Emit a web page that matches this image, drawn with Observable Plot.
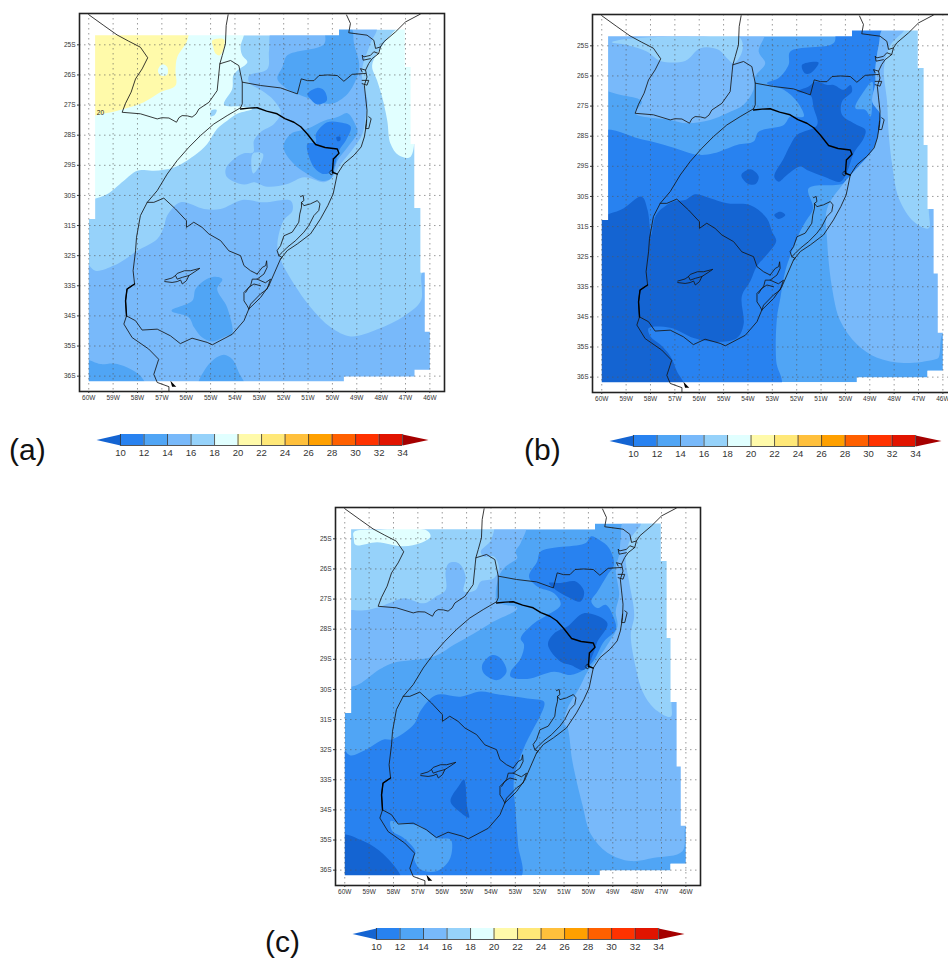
<!DOCTYPE html>
<html><head><meta charset="utf-8">
<script src="https://cdn.jsdelivr.net/npm/d3@7"></script>
<script src="https://cdn.jsdelivr.net/npm/@observablehq/plot@0.6"></script>
<style>
body{margin:0;background:#fff}
#root{position:relative;width:948px;height:958px;overflow:hidden;font-family:"Liberation Sans",Arial,sans-serif}
#root>svg,#root>div{position:absolute}
.tag{font-size:30px;color:#111;line-height:1;white-space:nowrap}
</style></head><body><div id="root"></div>
<script>
// All geographic data are degrees West, degrees South.
const lonTicks=[60,59,58,57,56,55,54,53,52,51,50,49,48,47,46];
const latTicks=[25,26,27,28,29,30,31,32,33,34,35,36];
const barValues=[10,12,14,16,18,20,22,24,26,28,30,32,34];
const bands=["<10","10-12","12-14","14-16","16-18","18-20","20-22","22-24","24-26","26-28","28-30","30-32","32-34",">34"];
const bandColours=["#1464d2","#2882f0","#50a5f5","#78b9fa","#96d2fa","#e1ffff","#fffaaa","#ffe878","#ffc03c","#ffa000","#ff6000","#ff3200","#e11400","#a50000"];

const dataDomain=[[59.74,24.68],[49.73,24.68],[49.73,24.49],[47.03,24.49],[47.03,25.74],[46.79,25.74],[46.79,28.29],[46.63,28.29],[46.63,30.42],[46.38,30.42],[46.38,32.56],[46.21,32.56],[46.21,34.53],[46,34.53],[46,35.79],[46.63,35.79],[46.63,36.01],[49.53,36.01],[49.53,36.17],[60,36.17],[60,30.78],[59.74,30.78]];

// Panel (a)
const aPaleNW=[[60.2,24.4],[53.66,24.4],[53.77,25.08],[53.70,25.35],[53.49,25.58],[53.90,25.85],[54.07,26.02],[54.11,26.46],[54.45,26.99],[53.77,27.05],[53.29,27.13],[53.90,27.29],[54.32,27.52],[54.73,27.79],[55.14,28.29],[55.68,28.68],[56.51,29.07],[57.33,29.18],[58.01,29.18],[58.56,29.51],[59.38,30.01],[60.2,30.05]];
const aPatch=[[54.97,27.18],[54.75,27.16],[54.86,27.35],[55.0,27.37]];
const aPaleE=[[47.2,24.4],[47.62,24.68],[47.89,24.96],[48.37,25.68],[48.17,26.18],[47.96,26.73],[47.75,27.51],[47.62,28.28],[47.28,28.67],[46.79,28.72],[46.7,25.74],[46.7,24.4]];
const aYellow=[[60.2,24.4],[55.96,24.4],[55.96,24.86],[56.37,25.41],[56.44,25.85],[56.44,26.35],[57.05,26.57],[57.74,26.91],[58.56,27.13],[59.32,27.27],[60.2,27.3]];
const aHole=[[57.15,25.80],[56.99,25.65],[56.78,25.74],[56.78,25.99],[57.05,26.02],[57.15,25.91]];
const aYellow2=[[54.93,24.86],[54.45,24.82],[54.45,25.08],[54.62,25.35],[54.79,25.30],[54.89,25.08]];
const a14N=[[52.40,24.4],[48.2,24.4],[48.45,24.97],[48.77,25.74],[48.77,26.19],[48.56,26.85],[48.63,27.35],[48.77,27.96],[49.11,28.40],[49.66,28.96],[50.0,29.40],[50.34,29.56],[51.16,29.40],[51.85,29.62],[52.67,29.71],[53.22,29.56],[53.63,29.64],[54.32,29.40],[54.38,29.12],[54.04,28.79],[53.63,28.60],[53.25,28.57],[53.22,28.18],[52.95,27.90],[52.40,27.63],[52.12,27.24],[52.40,26.85],[52.81,26.57],[53.42,26.24],[53.42,26.02],[52.67,25.80],[52.60,25.19]];
const aIsland=[[53.25,28.60],[52.85,28.62],[52.95,28.96],[53.25,29.27],[53.33,28.96]];
const a14S=[[60.2,32.17],[59.73,32.50],[58.97,32.33],[58.49,32.11],[58.01,31.84],[57.19,31.45],[56.92,31.06],[56.78,30.67],[56.23,30.23],[55.27,30.45],[54.59,30.45],[53.70,30.15],[52.81,30.23],[51.71,30.18],[51.64,30.51],[52.01,30.84],[52.26,31.67],[52.12,32.11],[52.05,32.28],[51.58,32.94],[50.89,33.72],[50.07,34.38],[49.25,34.68],[48.15,34.44],[47.05,34.0],[46.37,33.50],[46.30,32.56],[45.8,32.56],[45.8,36.3],[60.2,36.3]];
const a12N=[[50.27,24.4],[49.25,24.4],[49.11,24.97],[48.90,25.63],[48.97,26.02],[49.38,26.63],[50.07,26.96],[50.89,26.79],[51.44,26.63],[51.92,26.43],[52.26,26.13],[52.05,25.74],[51.85,25.35],[50.34,24.97]];
const a12S=[[49.38,27.27],[49.04,27.68],[48.97,27.90],[49.38,28.40],[49.79,28.84],[50.07,29.45],[50.48,29.51],[51.03,29.29],[51.58,28.96],[52.01,28.40],[51.71,27.96],[51.03,27.79],[50.34,27.52],[49.79,27.40]];
const a10N=[[51.03,26.63],[50.62,26.43],[50.34,26.52],[50.23,26.85],[50.62,26.98],[50.96,26.74]];
const a10S=[[50.68,27.96],[50.21,27.57],[49.73,27.57],[49.25,27.71],[49.45,28.18],[49.73,28.51],[50.0,29.18],[50.34,29.29],[50.75,29.07],[51.03,28.29],[50.68,28.24]];
const a8Dot=[[49.84,28.07],[49.68,28.05],[49.68,28.18],[49.79,28.20]];
const a12Uru=[[54.86,32.70],[54.52,32.78],[54.73,33.11],[54.32,33.72],[54.11,34.61],[54.32,34.66],[54.93,34.85],[55.34,34.72],[55.68,34.38],[55.89,34.05],[56.60,33.83],[55.75,33.50],[55.62,33.11],[55.27,32.83]];
const a12SW=[[60.2,35.47],[59.52,35.60],[58.97,35.58],[58.42,35.71],[57.88,35.99],[57.71,36.3],[60.2,36.3]];
const a12Mid=[[55.48,36.3],[55.27,35.83],[54.86,35.44],[54.45,35.29],[54.11,35.44],[53.84,35.88],[53.63,36.3]];
const panelA=[[aPaleNW,"18-20"],[aPatch,"16-18"],[aPaleE,"18-20"],[aYellow,"20-22"],[aHole,"18-20"],[aYellow2,"20-22"],[a14N,"14-16"],[aIsland,"16-18"],[a14S,"14-16"],[a12N,"12-14"],[a12S,"12-14"],[a10N,"10-12"],[a10S,"10-12"],[a8Dot,"<10"],[a12Uru,"12-14"],[a12SW,"12-14"],[a12Mid,"12-14"]];

// Panel (b)
const b14NW=[[60.2,24.4],[53.29,24.4],[53.56,25.19],[53.29,25.58],[53.70,26.02],[53.77,26.46],[54.18,26.96],[54.86,27.24],[55.55,27.46],[56.51,27.57],[57.19,27.46],[58.63,27.24],[58.36,26.85],[59.52,26.57],[60.2,26.3]];
const b16NW=[[59.59,24.88],[58.70,24.75],[55.82,24.69],[54.38,24.69],[54.21,24.97],[54.32,25.35],[54.59,25.58],[54.86,25.41],[55.21,25.13],[55.96,25.08],[56.58,25.50],[57.60,25.50],[58.15,25.19],[58.97,24.97]];
const b10Big=[[60.2,27.88],[58.29,28.12],[57.19,28.35],[56.03,28.62],[55.41,28.57],[54.45,28.29],[53.77,28.18],[53.56,27.85],[52.53,27.63],[52.26,27.35],[51.71,27.35],[51.99,26.85],[52.53,26.46],[53.22,26.24],[52.74,26.07],[52.33,25.63],[52.26,25.19],[50.48,24.91],[50.34,24.4],[48.42,24.4],[48.63,24.97],[48.77,25.74],[48.77,26.24],[48.90,26.85],[48.56,27.29],[48.63,27.85],[48.84,28.40],[49.66,29.18],[50.07,29.56],[51.51,29.73],[51.33,30.40],[51.64,30.84],[51.85,31.15],[52.19,31.81],[52.47,32.48],[52.67,33.37],[52.81,34.03],[52.84,35.47],[52.67,36.3],[60.2,36.3]];
const b12Inlet=[[48.90,26.19],[49.25,26.52],[49.59,27.07],[49.18,27.13],[48.97,27.35],[48.90,26.85]];
const b8Main=[[51.99,26.52],[51.51,26.35],[51.23,26.19],[50.75,26.30],[50.48,26.30],[50.07,26.46],[49.79,26.30],[49.73,26.52],[50.14,26.85],[50.14,27.29],[49.66,27.57],[49.18,27.79],[49.25,28.07],[49.66,28.57],[49.93,29.18],[50.21,29.51],[50.89,29.34],[51.58,29.12],[51.85,29.01],[52.40,29.29],[52.74,29.51],[52.92,29.34],[52.53,28.73],[52.26,28.29],[51.99,27.96],[51.16,27.63],[51.30,27.07],[51.44,26.63]];
const b8Top=[[51.78,25.63],[51.10,25.55],[51.44,25.91],[51.67,25.91]];
const b8Centre=[[54.27,29.29],[53.90,29.10],[53.56,29.34],[53.70,29.60],[54.04,29.56]];
const b8Small=[[52.92,30.62],[52.67,30.51],[52.47,30.62],[52.74,30.75]];
const b8SW=[[60.2,30.9],[59.11,30.40],[58.36,30.01],[58.12,30.45],[57.97,31.28],[57.85,30.78],[57.67,30.51],[57.05,30.17],[56.58,30.12],[56.16,29.93],[55.55,30.06],[54.86,30.23],[53.90,30.29],[53.22,30.73],[53.01,31.17],[52.84,31.48],[53.22,31.93],[53.63,32.31],[53.90,32.81],[54.25,33.31],[54.18,34.25],[54.45,34.70],[55.27,34.83],[56.23,34.70],[57.19,34.36],[58.08,34.38],[58.01,34.64],[57.60,34.92],[57.19,35.30],[56.92,35.80],[56.65,36.3],[60.2,36.3]];
const b14E=[[48.42,24.4],[45.6,24.4],[45.6,34.58],[46.0,34.58],[46.18,35.36],[46.37,35.42],[47.60,35.53],[48.70,35.36],[49.52,34.92],[50.21,34.14],[50.55,33.03],[50.75,31.48],[50.75,30.40],[50.07,29.56],[49.66,29.18],[48.84,28.40],[48.63,27.85],[48.56,27.29],[48.90,26.85],[48.77,26.24],[48.77,25.74],[48.63,24.97]];
const b16E=[[47.60,24.4],[47.60,24.50],[48.15,24.97],[48.42,25.74],[48.29,26.85],[48.22,27.96],[48.08,28.96],[47.81,30.06],[47.19,30.84],[46.58,31.06],[46.58,30.42],[46.58,24.4]];
const panelB=[[b14NW,"14-16"],[b16NW,"16-18"],[b10Big,"10-12"],[b12Inlet,"12-14"],[b8Main,"<10"],[b8Top,"<10"],[b8Centre,"<10"],[b8Small,"<10"],[b8SW,"<10"],[b14E,"14-16"],[b16E,"16-18"]];

// Panel (c)
const c14NW=[[60.2,24.4],[52.58,24.4],[52.78,25.14],[52.99,25.42],[52.92,25.64],[53.40,25.92],[53.67,26.25],[53.74,27.08],[52.92,27.30],[54.01,27.80],[54.70,28.14],[55.52,28.52],[56.34,28.91],[58.05,29.13],[58.60,29.35],[59.56,29.88],[60.2,29.85]];
const c16NW=[[60.2,24.4],[53.95,24.4],[53.99,25.03],[54.42,25.42],[54.29,25.59],[53.88,25.59],[53.67,25.98],[53.88,26.31],[54.42,26.42],[54.63,26.70],[55.11,26.75],[55.04,26.25],[55.32,25.81],[55.73,25.81],[55.86,26.09],[55.86,26.70],[56.27,26.92],[56.75,27.14],[57.58,26.97],[58.19,27.14],[58.60,27.27],[59.49,27.38],[60.2,27.19]];
const cPale=[[59.63,24.78],[58.53,24.70],[56.62,24.73],[56.48,24.92],[56.89,25.14],[57.58,25.25],[58.67,25.11],[59.56,25.20],[59.63,24.98]];
const c10N=[[49.90,24.92],[50.11,25.14],[51.96,25.42],[52.10,25.75],[52.44,26.25],[52.10,26.58],[51.41,26.81],[51.14,27.19],[51.68,27.53],[52.23,27.80],[52.78,28.30],[52.64,28.52],[52.78,28.97],[53.19,29.41],[53.19,29.58],[52.51,29.65],[51.41,29.41],[50.73,29.52],[50.18,29.35],[49.77,29.02],[49.36,28.41],[48.88,28.02],[48.95,27.64],[49.29,27.19],[49.63,27.30],[49.88,27.08],[49.63,26.75],[49.22,26.20],[48.95,25.86],[49.15,25.31],[49.56,25.03]];
const c8N=[[51.62,26.47],[51.14,26.47],[50.52,26.42],[50.18,26.75],[50.32,27.08],[50.86,26.92],[51.34,26.70]];
const c8S=[[51.41,28.14],[50.86,27.91],[50.18,27.47],[49.22,27.80],[49.63,28.41],[49.77,28.75],[50.18,29.35],[50.73,29.19],[51.14,29.08],[51.66,28.52]];
const c10Centre=[[54.36,29.19],[53.95,28.86],[53.60,28.97],[53.36,29.41],[53.74,29.69],[54.29,29.47]];
const c10S=[[60.2,31.88],[59.77,32.19],[59.22,32.04],[58.40,31.66],[58.05,31.66],[57.16,31.16],[56.89,30.71],[56.27,30.19],[55.25,30.24],[54.42,30.07],[53.74,30.16],[52.51,30.30],[51.82,30.41],[51.96,30.85],[52.16,31.16],[52.64,31.93],[53.05,32.93],[52.99,34.04],[52.89,35.15],[52.82,36.3],[60.2,36.3]];
const c12Patch=[[58.12,34.37],[57.85,34.43],[57.30,34.48],[56.89,34.54],[56.21,34.93],[55.66,34.98],[55.59,35.26],[55.73,35.70],[56.21,36.03],[56.89,35.98],[57.16,35.59],[57.10,35.37],[57.58,34.93],[58.05,34.70]];
const c8Centre=[[55.11,32.99],[54.97,33.93],[54.90,34.26],[55.32,34.04],[55.66,33.71],[55.32,33.21]];
const c8SW=[[60.2,34.84],[59.22,35.04],[58.40,35.48],[57.71,36.3],[60.2,36.3]];
const c14E=[[48.53,24.4],[48.67,24.98],[48.74,25.53],[48.88,25.98],[48.74,26.86],[48.88,27.42],[48.81,27.91],[49.22,28.52],[49.70,29.08],[50.04,29.41],[50.38,29.96],[50.86,30.63],[51.0,31.13],[50.86,31.27],[50.66,32.38],[50.25,33.82],[49.90,34.81],[49.22,35.42],[48.26,35.70],[47.30,35.59],[46.14,35.37],[45.99,34.54],[45.6,34.54],[45.6,24.4]];
const c16E=[[47.85,24.4],[47.85,24.53],[48.26,24.98],[48.47,25.64],[48.33,26.42],[48.12,27.53],[48.26,28.19],[48.05,29.30],[47.78,30.07],[47.30,30.63],[46.62,30.91],[46.59,30.43],[46.59,24.4]];
const panelC=[[c14NW,"14-16"],[c16NW,"16-18"],[cPale,"18-20"],[c10N,"10-12"],[c8N,"<10"],[c8S,"<10"],[c10Centre,"10-12"],[c10S,"10-12"],[c12Patch,"12-14"],[c8Centre,"<10"],[c8SW,"<10"],[c14E,"14-16"],[c16E,"16-18"]];

// Coast, rivers and borders
const lineWestBorder=[[60,24.0],[59.38,24.36],[58.84,24.67],[58.36,24.88],[57.88,25.08],[57.58,25.43],[57.81,25.80],[58.08,26.13],[58.26,26.57],[58.49,26.94],[58.63,27.24],[57.88,27.29],[57.19,27.46],[57.0,27.42],[56.71,27.43],[56.40,27.57],[56.3,27.42],[56.17,27.35],[55.95,27.36],[55.76,27.40],[55.6,27.3],[55.48,27.13],[55.07,26.91],[54.73,26.52],[54.62,25.63],[54.18,25.52],[53.84,25.69],[53.70,26.24],[53.70,26.96],[53.77,27.09]];
const lineParana=[[54.28,24.0],[54.36,24.36],[54.39,24.97],[54.52,25.35],[54.62,25.63]];
const lineUruguayRiver=[[53.77,27.09],[54.32,27.35],[54.87,27.63],[55.41,28.01],[55.89,28.40],[56.37,28.84],[56.78,29.29],[57.19,29.84],[57.60,30.23],[57.88,30.67],[58.04,31.39],[58.08,31.84],[58.18,32.50],[58.12,32.94],[58.43,33.11],[58.49,33.50],[58.45,34.0],[58.56,34.27],[58.22,34.72],[57.54,35.10],[57.13,35.44],[57.33,35.94],[57.19,36.21],[56.71,36.35],[56.71,36.51]];
const lineCoast=[[58.45,34.0],[58.08,34.16],[57.81,34.47],[57.19,34.44],[56.65,34.66],[56.24,34.92],[55.76,34.74],[55.14,34.88],[54.93,34.96],[54.11,34.61],[53.63,34.16],[53.43,33.77],[52.95,33.39],[52.61,33.0],[52.40,32.61],[52.13,32.11],[51.85,31.83],[51.44,31.61],[50.90,31.28],[50.49,30.78],[50.19,30.34],[49.97,29.95],[49.80,29.29],[49.53,28.95],[49.12,28.67],[48.82,28.39],[48.69,28.06],[48.60,27.62],[48.58,27.17],[48.64,26.73],[48.69,26.34],[48.58,26.07],[48.64,25.84],[48.51,25.62],[48.37,25.46],[48.10,25.29],[48.03,25.07],[47.89,24.90],[47.41,24.57],[47.0,24.24],[46.39,23.98]];
const lineSaoPaulo=[[49.42,24.01],[49.26,24.29],[49.33,24.60],[48.58,24.68],[48.30,24.85],[48.23,25.12],[48.03,25.07]];
const lineParanaState=[[53.70,26.24],[52.95,26.35],[52.13,26.43],[51.44,26.63],[51.28,26.13],[51.02,26.19],[50.76,26.19],[50.55,26.02],[50.2,26.0],[49.80,26.02],[49.53,26.21],[49.19,25.98],[48.64,25.95]];
const lineUruguayBorder=[[57.60,30.23],[57.33,30.23],[56.92,30.09],[56.44,30.45],[55.99,30.84],[55.99,31.06],[55.69,30.89],[55.35,31.06],[55.07,31.28],[54.59,31.50],[54.25,31.84],[53.77,32.0],[53.63,32.33],[53.36,32.50],[53.09,32.61]];
const lineMirimWest=[[53.09,32.61],[52.88,32.39],[52.74,32.33],[52.70,32.17],[52.68,32.39],[52.81,32.61],[53.09,32.78],[53.29,32.78],[53.36,33.0],[53.63,33.22],[53.63,33.50],[53.50,33.66],[53.43,33.77]];
const lineMirimEast=[[53.09,32.78],[52.75,32.90],[52.54,32.78],[52.68,33.11],[52.95,33.27],[53.36,33.61],[53.43,33.77]];
const lineMirimInner=[[53.56,33.22],[53.43,33.05],[53.22,32.94],[52.95,33.0]];
const linePatosEast=[[51.31,30.04],[51.20,30.0],[51.17,30.17],[51.27,30.23],[51.17,30.34],[50.90,30.28],[50.62,30.17],[50.51,30.28],[50.56,30.50],[50.76,30.67],[50.97,31.0],[51.17,31.22],[51.51,31.50],[51.85,31.72],[52.06,31.89],[52.20,32.0]];
const linePatosWest=[[51.27,30.23],[51.27,30.39],[51.34,30.62],[51.38,30.89],[51.65,31.22],[51.99,31.34],[52.13,31.67],[52.27,31.83],[52.20,32.0],[52.06,32.06],[52.13,32.11]];
const lineBay=[[48.10,25.29],[48.30,25.23],[48.44,25.35],[48.71,25.40],[48.78,25.34],[48.74,25.51],[48.44,25.46]];
const lineBay2=[[48.64,25.84],[48.85,25.79],[48.78,25.9]];
const lineLoop=[[48.78,26.18],[48.51,26.18],[48.58,26.34],[48.78,26.29]];
const lineLagoon=[[48.51,27.39],[48.41,27.45],[48.51,27.78],[48.64,27.78],[48.60,27.50]];
const lineLaguna=[[50.1,29.2],[50.0,29.15],[49.95,29.25],[50.05,29.32],[50.12,29.25]];
const lineLakeBranch=[[56.44,32.66],[56.37,32.78],[56.16,32.72],[55.89,32.66]];
const lineStateSouth=[[53.77,27.13],[53.42,27.1],[53.09,27.09],[52.7,27.2],[52.27,27.29],[51.95,27.45],[51.58,27.57],[51.3,27.72],[51.03,27.96],[50.69,28.31],[50.3,28.41],[49.80,28.46],[49.73,28.60],[49.96,28.79],[50.0,29.23],[49.80,29.29]];
const lineRiverThick=[[58.12,32.94],[58.43,33.11],[58.49,33.50],[58.45,34.0]];
const lineLakeNegro=[[56.88,32.81],[56.58,32.74],[56.44,32.66],[56.37,32.59],[56.07,32.50],[55.82,32.50],[55.44,32.42],[55.68,32.55],[55.89,32.66],[55.99,32.83],[56.16,32.94],[56.23,32.81],[56.37,32.86],[56.58,32.89],[56.88,32.86]];
const markBlack=[[56.65,36.15],[56.58,36.35],[56.41,36.35]];
const thinLines=[lineWestBorder,lineParana,lineUruguayRiver,lineCoast,lineSaoPaulo,lineParanaState,lineUruguayBorder,lineMirimWest,lineMirimEast,lineMirimInner,linePatosEast,linePatosWest,lineBay,lineBay2,lineLoop,lineLagoon,lineLaguna,lineLakeNegro,lineLakeBranch];
const thickLines=[lineStateSouth,lineRiverThick];

const lonDomain=[60.38,45.40], latDomain=[36.51,23.96];
const sansFont='"Liberation Sans",Arial,sans-serif';
const colorScale={type:"ordinal",domain:bands,range:bandColours};
const pts=(list,key)=>list.flatMap((l,i)=>l.map(p=>({x:p[0],y:p[1],[key]:i})));

function mapPanel(layers,base,extra){
  const rows=layers.flatMap(([poly,band],i)=>poly.map(p=>({x:p[0],y:p[1],poly:i,band})));
  const ring=dataDomain.map(p=>({x:p[0],y:p[1],band:base}));
  const [w0,w1]=lonDomain,[s0,s1]=latDomain;
  const start={x:dataDomain[0][0],y:dataDomain[0][1]};
  const outer=[{x:w0,y:s1},{x:w1,y:s1},{x:w1,y:s0},{x:w0,y:s0},{x:w0,y:s1},start,
    ...dataDomain.slice().reverse().map(p=>({x:p[0],y:p[1]})),start];
  return Plot.plot({
    width:407,height:404,marginLeft:30,marginRight:12,marginTop:6,marginBottom:20,
    style:{background:"transparent",fontFamily:sansFont},
    x:{domain:lonDomain},y:{domain:latDomain},color:colorScale,
    marks:[
      Plot.line(ring,{x:"x",y:"y",fill:"band",stroke:"none"}),
      Plot.line(rows,{x:"x",y:"y",z:"poly",fill:"band",stroke:"none",curve:"catmull-rom-closed",clip:true}),
      Plot.line(outer,{x:"x",y:"y",fill:"white",stroke:"none"}),
      Plot.gridX(lonTicks,{stroke:"#555",strokeOpacity:.75,strokeWidth:.8,strokeDasharray:"1.5 3.5"}),
      Plot.gridY(latTicks,{stroke:"#555",strokeOpacity:.75,strokeWidth:.8,strokeDasharray:"1.5 3.5"}),
      Plot.line(pts(thinLines,"id"),{x:"x",y:"y",z:"id",stroke:"#161616",strokeWidth:.85}),
      Plot.line(pts(thickLines,"id"),{x:"x",y:"y",z:"id",stroke:"#000",strokeWidth:1.4}),
      Plot.line(markBlack,{x:d=>d[0],y:d=>d[1],fill:"#000",stroke:"none"}),
      ...extra,
      Plot.frame({stroke:"#222",strokeWidth:1.6}),
      Plot.axisX(lonTicks,{anchor:"bottom",label:null,tickSize:2,tickPadding:2,fontSize:6.5,fill:"#333",stroke:"#333",tickFormat:d=>d+"W"}),
      Plot.axisY(latTicks,{anchor:"left",label:null,tickSize:2,tickPadding:2,fontSize:6.5,fill:"#333",stroke:"#333",tickFormat:d=>d+"S"})
    ]
  });
}
function colourBar(){
  const cells=barValues.slice(0,-1).map((v,i)=>({a:v,b:barValues[i+1],band:bands[i+1]}));
  const tipL=[{x:7.96,y:.5,band:bands[0]},{x:10,y:0,band:bands[0]},{x:10,y:1,band:bands[0]}];
  const tipR=[{x:34,y:0,band:bands[13]},{x:36.2,y:.5,band:bands[13]},{x:34,y:1,band:bands[13]}];
  return Plot.plot({
    width:340,height:32,marginLeft:4,marginRight:4,marginTop:2,marginBottom:19,
    style:{background:"transparent",fontFamily:sansFont},
    x:{domain:[7.96,36.2]},y:{domain:[0,1],axis:null},color:colorScale,
    marks:[
      Plot.rect(cells,{x1:"a",x2:"b",y1:0,y2:1,fill:"band"}),
      Plot.line(tipL,{x:"x",y:"y",fill:"band",stroke:"none"}),
      Plot.line(tipR,{x:"x",y:"y",fill:"band",stroke:"none"}),
      Plot.ruleX(barValues,{y1:0,y2:1,stroke:"#333",strokeWidth:.8}),
      Plot.ruleY([0],{x1:10,x2:34,stroke:"#555",strokeWidth:1}),
      Plot.axisX(barValues,{anchor:"bottom",label:null,tickSize:0,tickPadding:4,fontSize:9.5,fill:"#333"})
    ]
  });
}
const root=document.getElementById("root");
function place(node,left,top){node.style.position="absolute";node.style.left=left+"px";node.style.top=top+"px";node.style.maxWidth="none";root.appendChild(node);}
function tag(text,left,top){const d=document.createElement("div");d.className="tag";d.textContent=text;place(d,left,top);}
const label20=Plot.text([{x:59.52,y:27.27,t:"20"}],{x:"x",y:"y",text:"t",fontSize:6.5,fill:"#222"});
place(mapPanel(panelA,"16-18",[label20]),49,7);
place(mapPanel(panelB,"12-14",[]),562,7.7);
place(mapPanel(panelC,"12-14",[]),305,500.7);
place(colourBar(),92,432);
place(colourBar(),605.3,433);
place(colourBar(),348.3,926.3);
tag("(a)",9,435);tag("(b)",524,435);tag("(c)",265,927);
</script></body></html>
